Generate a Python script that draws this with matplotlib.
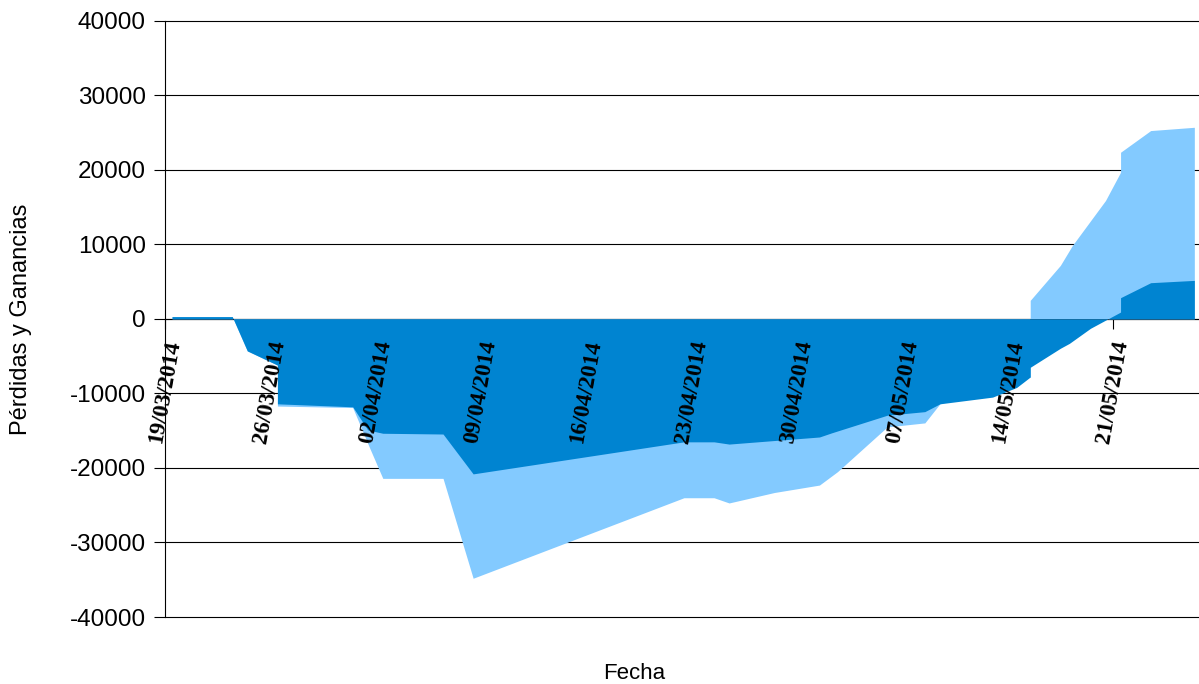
import numpy as np
import matplotlib
matplotlib.use("Agg")
import matplotlib.pyplot as plt

# ---- data (days since 19/03/2014, P&L values) ----
start_date = np.datetime64("2014-03-19")
tick_dates = ["2014-03-19", "2014-03-26", "2014-04-02", "2014-04-09", "2014-04-16",
              "2014-04-23", "2014-04-30", "2014-05-07", "2014-05-14", "2014-05-21"]
tick_labels = ["19/03/2014", "26/03/2014", "02/04/2014", "09/04/2014", "16/04/2014",
               "23/04/2014", "30/04/2014", "07/05/2014", "14/05/2014", "21/05/2014"]

dark_day = [0.5, 4.5, 5.5, 7.5, 7.5, 12.5, 13.5, 14.5, 18.5, 20.5, 34.5, 36.5, 37.5,
            43.5, 44.3, 48.0, 50.5, 51.5, 55.0, 56.6, 57.5, 57.5, 59.5, 60.1, 61.5,
            63.5, 63.5, 65.5, 68.4]
dark_pnl = [300, 300, -4300, -6200, -11400, -11800, -14900, -15350, -15450, -20800,
            -16500, -16500, -16800, -15850, -15300, -12930, -12450, -11400, -10500,
            -9200, -7800, -6500, -3950, -3290, -1270, 910, 2840, 4850, 5160]

light_day = [0.5, 4.5, 5.5, 7.5, 7.5, 12.5, 13.6, 14.5, 18.5, 20.5, 34.5, 36.5, 37.5,
             40.5, 43.5, 44.7, 48.0, 50.5, 51.5, 57.5, 57.5, 59.5, 60.3, 62.5, 63.5,
             63.5, 65.5, 68.4]
light_pnl = [300, 300, -4300, -6200, -11700, -11900, -17200, -21400, -21400, -34800,
             -24000, -24000, -24700, -23300, -22300, -20500, -14500, -13960, -11400,
             -7800, 2480, 7170, 9850, 15880, 19670, 22350, 25260, 25700]

y_ticks = [-40000, -30000, -20000, -10000, 0, 10000, 20000, 30000, 40000]

DARK = "#0084D1"
LIGHT = "#83CAFF"

fig = plt.figure(figsize=(11.99, 6.84), dpi=100)
pos = [164.5 / 1199, 67 / 684, 1 - 164.5 / 1199, 596.3 / 684]
ax = fig.add_axes(pos)

tick_pos = [(np.datetime64(d) - start_date).astype(int) for d in tick_dates]

ax.fill_between(light_day, 0, light_pnl, color=LIGHT, linewidth=0, zorder=1)
ax.fill_between(dark_day, 0, dark_pnl, color=DARK, linewidth=0, zorder=1.2)

ax.set_xlim(0, 68.71)
ax.set_ylim(-40000, 40000)
ax.set_yticks(y_ticks)
ax.set_yticklabels([str(v) for v in y_ticks], fontfamily="Liberation Sans", fontsize=17.5)
ax.set_xticks(tick_pos)
ax.set_axisbelow(True)
ax.grid(axis="y", color="black", linewidth=0.8)
for gl in ax.get_ygridlines():
    gl.set_clip_on(False)

ax.spines["top"].set_visible(False)
ax.spines["right"].set_visible(False)
ax.spines["bottom"].set_position(("data", 0))
ax.spines["bottom"].set_zorder(0.6)
ax.spines["left"].set_zorder(0.6)
for s in ("left", "bottom"):
    ax.spines[s].set_linewidth(0.8)
    ax.spines[s].set_color("black")

ax.tick_params(axis="y", direction="out", length=8, width=0.8, pad=5.5, colors="black")
ax.tick_params(axis="x", direction="out", length=7.2, width=0.8, labelbottom=False)

ax.set_ylabel("Pérdidas y Ganancias", fontfamily="Liberation Sans", fontsize=17)
ax.yaxis.set_label_coords(-0.128, 0.5)
ax.set_xlabel("Fecha", fontfamily="Liberation Sans", fontsize=16)
ax.xaxis.set_label_coords(0.4538, -0.077)

# overlay axes carrying the x tick labels on top of the areas
ax2 = fig.add_axes(pos, sharex=ax, sharey=ax, frameon=False)
ax2.spines["bottom"].set_position(("data", 0))
ax2.tick_params(axis="x", length=0, pad=14.5)
ax2.tick_params(axis="y", left=False, labelleft=False)
ax2.set_xticks(tick_pos)
ax2.set_xticklabels(tick_labels, rotation=80, ha="center", va="top",
                    fontfamily="Liberation Serif", fontweight="bold", fontsize=16.5)
ax2.patch.set_visible(False)

fig.savefig("out.png", dpi=100)
